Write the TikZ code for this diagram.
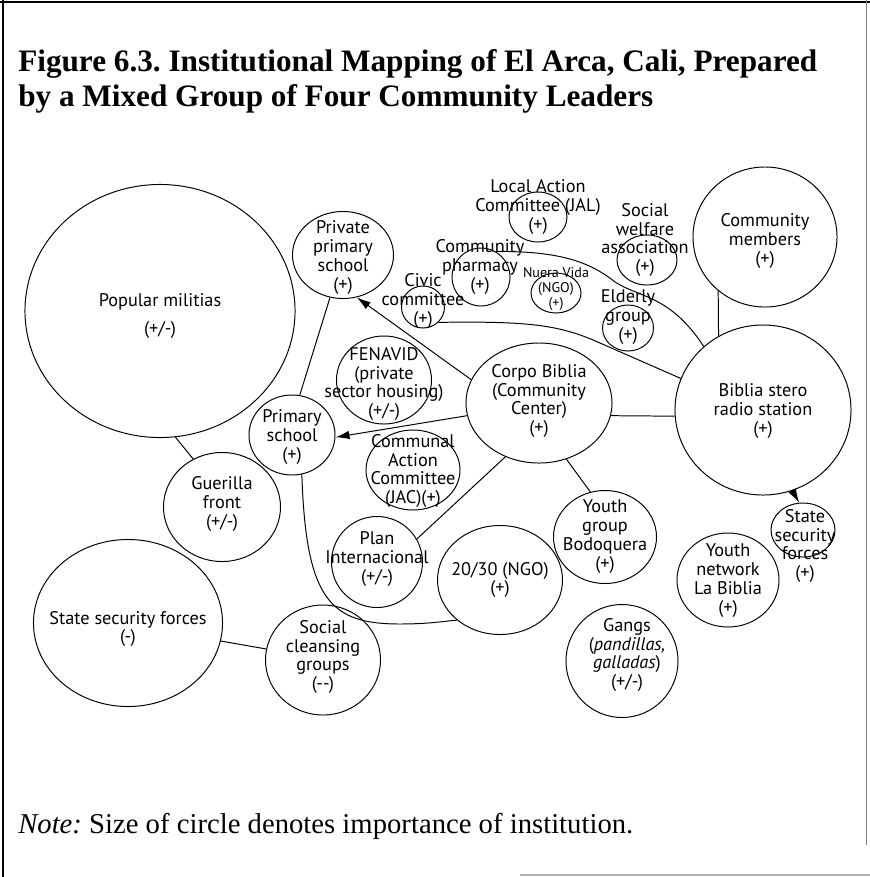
\documentclass[tikz,border=0pt]{standalone}
\usepackage{fontspec}
\setmainfont{Liberation Serif}
\setsansfont{PT Sans}
\usetikzlibrary{shapes.geometric,arrows.meta}
\frenchspacing
\tikzset
{
    instnode/.style  = {ellipse, draw=black, line width=0.7pt, inner sep=0pt},
    instlabel/.style = {align=center, inner sep=0pt, font=\sffamily\fontsize{13}{13.5}\selectfont},
    smalllabel/.style = {align=center, inner sep=0pt, font=\sffamily\fontsize{10}{10.5}\selectfont},
    link/.style      = {line width=0.7pt},
    arrowlink/.style = {line width=0.7pt, -{Latex[length=10pt, width=6pt]}}
}

\begin{document}
\begin{tikzpicture}[x=0.025cm, y=-0.025cm]
	\useasboundingbox (0,0) rectangle (870,877);
	% frame
	\draw[line width=1.5pt] (3,0) -- (3,877);
	\draw[line width=1pt] (0,2) -- (870,2);
	\draw[gray, line width=0.6pt] (866,0) -- (866,845);
	\draw[gray!60, line width=0.8pt] (520,875) -- (870,875);

	\node[anchor=north west, align=left, inner sep=0pt, font=\bfseries\fontsize{22.2}{25}\selectfont] (title) at (18,49)
		{Figure 6.3. Institutional Mapping of El Arca, Cali, Prepared\\by a Mixed Group of Four Community Leaders};
	\node[anchor=base west, inner sep=0pt, font=\fontsize{20.4}{24}\selectfont] (note) at (18,833)
		{\textit{Note:} Size of circle denotes importance of institution.};

	% institutions
	\node[instnode, minimum width=6.75cm, minimum height=6.325cm] (militias) at (160,311) {};
	\node[instlabel] (militiastxt) at (160,316) {Popular militias\\[6pt](+/-)};
	\node[instnode, minimum width=2.525cm, minimum height=2.175cm] (privschool) at (343,255) {};
	\node[instlabel] (privschooltxt) at (343,258) {Private\\primary\\school\\(+)};
	\node[instnode, minimum width=2.15cm, minimum height=2cm] (primschool) at (292,435) {};
	\node[instlabel] (primschooltxt) at (292,437) {Primary\\school\\(+)};
	\node[instnode, minimum width=2.925cm, minimum height=2.725cm] (guerilla) at (222,507) {};
	\node[instlabel] (guerillatxt) at (222,504) {Guerilla\\front\\(+/-)};
	\node[instnode, minimum width=4.725cm, minimum height=4.175cm] (statebig) at (128,623) {};
	\node[instlabel] (statebigtxt) at (128,629) {State security forces\\(-)};
	\node[instnode, minimum width=2.875cm, minimum height=2.75cm] (cleansing) at (323,660) {};
	\node[instlabel] (cleansingtxt) at (323,657) {Social\\cleansing\\groups\\(-{}-)};
	\node[instnode, minimum width=2.375cm, minimum height=2.2cm] (fenavid) at (384,380) {};
	\node[instlabel] (fenavidtxt) at (384,384) {FENAVID\\(private\\sector housing)\\(+/-)};
	\node[instnode, minimum width=2.35cm, minimum height=2cm] (jac) at (413,470) {};
	\node[instlabel] (jactxt) at (413,471) {Communal\\Action\\Committee\\(JAC)(+)};
	\node[instnode, minimum width=2.275cm, minimum height=2.275cm] (plan) at (377,562) {};
	\node[instlabel] (plantxt) at (377,559) {Plan\\Internacional\\(+/-)};
	\node[instnode, minimum width=3.125cm, minimum height=2.725cm] (ngo) at (500,580) {};
	\node[instlabel] (ngotxt) at (500,580) {20/30 (NGO)\\(+)};
	\node[instnode, minimum width=3.65cm, minimum height=3cm] (corpo) at (539,403) {};
	\node[instlabel] (corpotxt) at (539,401) {Corpo Biblia\\(Community\\Center)\\(+)};
	\node[instnode, minimum width=2.575cm, minimum height=2.325cm] (youthgrp) at (605,537) {};
	\node[instlabel] (youthgrptxt) at (605,537) {Youth\\group\\Bodoquera\\(+)};
	\node[instnode, minimum width=2.8cm, minimum height=2.825cm] (gangs) at (622,661) {};
	\node[instlabel] (gangstxt) at (627,655) {Gangs\\(\textit{pandillas,}\\\textit{galladas})\\(+/-)};
	\node[instnode, minimum width=2.55cm, minimum height=2.35cm] (youthnet) at (728,580) {};
	\node[instlabel] (youthnettxt) at (728,581) {Youth\\network\\La Biblia\\(+)};
	\node[instnode, minimum width=1.6cm, minimum height=1.35cm] (statesmall) at (803,530) {};
	\node[instlabel] (statesmalltxt) at (805,546) {State\\security\\forces\\(+)};
	\node[instnode, minimum width=4.4cm, minimum height=4.25cm] (radio) at (763,410) {};
	\node[instlabel] (radiotxt) at (763,411) {Biblia stero\\radio station\\(+)};
	\node[instnode, minimum width=3.6cm, minimum height=3.5cm] (members) at (765,237) {};
	\node[instlabel] (memberstxt) at (765,241) {Community\\members\\(+)};
	\node[instnode, minimum width=1.45cm, minimum height=1.25cm] (jal) at (538,217) {};
	\node[instlabel] (jaltxt) at (538,207) {Local Action\\Committee (JAL)\\(+)};
	\node[instnode, minimum width=1.5cm, minimum height=1.25cm] (welfare) at (647,260) {};
	\node[instlabel] (welfaretxt) at (645,240) {Social\\welfare\\association\\(+)};
	\node[instnode, minimum width=1.45cm, minimum height=1.45cm] (pharmacy) at (481,277) {};
	\node[instlabel] (pharmacytxt) at (480,267) {Community\\pharmacy\\(+)};
	\node[instnode, minimum width=1.075cm, minimum height=1.05cm] (civic) at (423,307) {};
	\node[instlabel] (civictxt) at (423,301) {Civic\\committee\\(+)};
	\node[instnode, minimum width=1.25cm, minimum height=1cm] (nuera) at (556,293) {};
	\node[smalllabel] (nueratxt) at (556,289) {Nuera Vida\\(NGO)\\(+)};
	\node[instnode, minimum width=1.275cm, minimum height=1.15cm] (elderly) at (628,328) {};
	\node[instlabel] (elderlytxt) at (628,317) {Elderly\\group\\(+)};

	% links
	\draw[link] (militias.277) -- (guerilla.121);
	\draw[link] (privschool.253) -- (primschool.79);
	\draw[arrowlink, {Latex[length=10pt, width=6pt]}-] (privschool.288) -- (corpo.161);
	\draw[arrowlink] (corpo.190) -- (primschool.357);
	\draw[link] (corpo.238) -- (plan.30);
	\draw[link] (corpo.296) -- (youthgrp.108);
	\draw[link] (corpo.350) -- (radio.184);
	\draw[link] (members.229) -- (radio.121);
	\draw[arrowlink] (radio.290) -- (statesmall.98);
	\draw[link] (statebig.349) -- (cleansing.169);
	\draw[link] (primschool.284) .. controls (306,600) and (330,624) .. (400,624)
		.. controls (430,624) and (445,621) .. (ngo.223);
	\draw[link] (civic.315) .. controls (530,321) and (560,325) .. (600,343) -- (radio.159);
	\draw[link] (pharmacy.60) .. controls (560,251) and (590,262) .. (615,282)
		.. controls (640,298) and (670,295) .. (radio.133);
\end{tikzpicture}
\end{document}
